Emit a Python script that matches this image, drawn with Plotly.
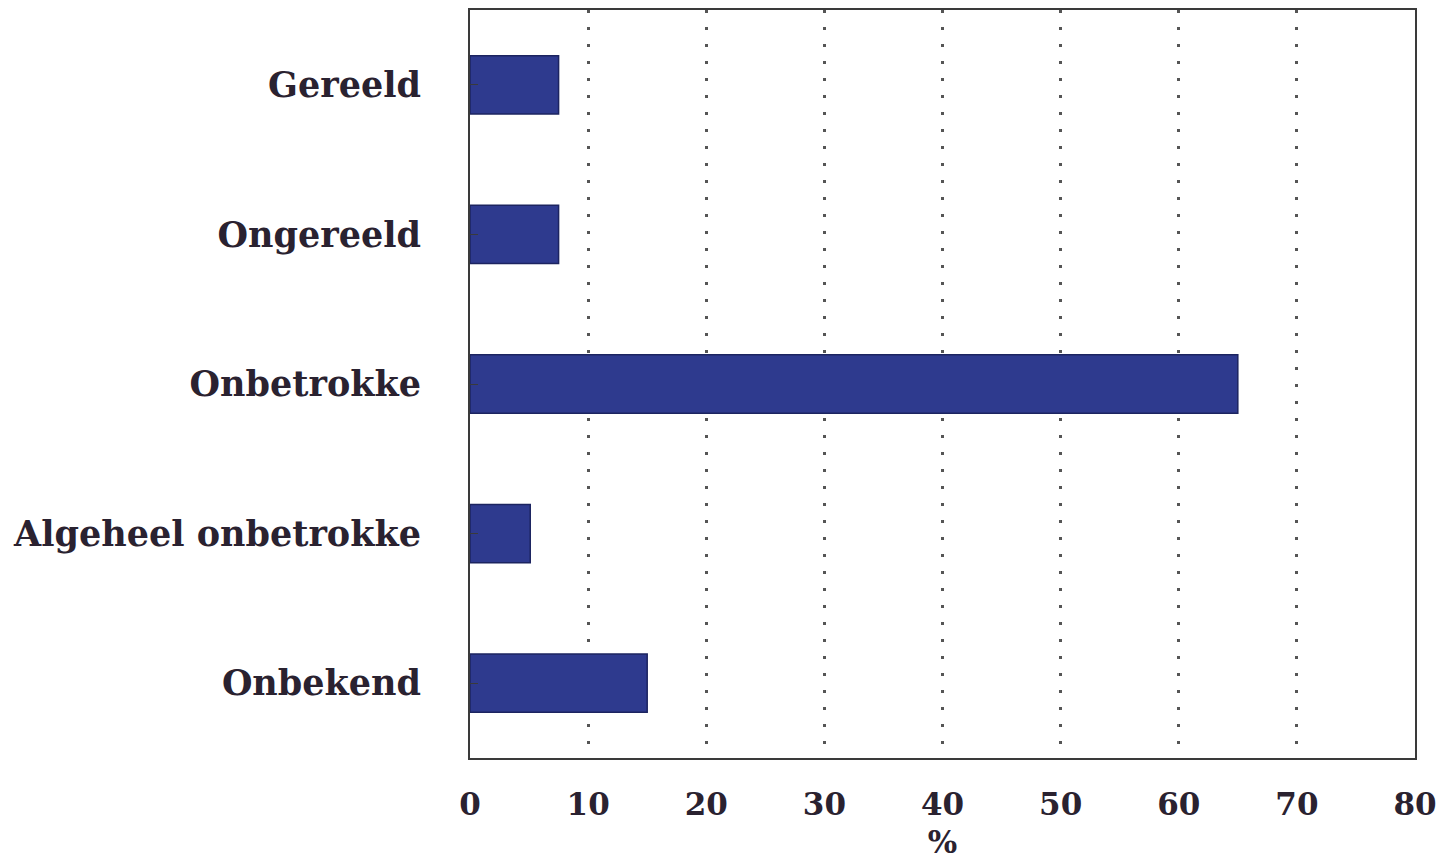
import plotly.graph_objects as go

categories = ["Gereeld", "Ongereeld", "Onbetrokke", "Algeheel onbetrokke", "Onbekend"]
values = [7.5, 7.5, 65, 5.1, 15]
x_ticks = [0, 10, 20, 30, 40, 50, 60, 70, 80]
x_title = "%"

font_family = "DejaVu Serif"
text_color = "#2a2230"

fig = go.Figure(go.Bar(
    x=values, y=categories, orientation="h",
    width=0.39,
    marker=dict(color="#2e3a8e", line=dict(color="#1c2460", width=1.5)),
))

fig.update_layout(
    width=1430, height=852,
    margin=dict(l=462, r=23, t=2, b=102),
    plot_bgcolor="white", paper_bgcolor="white",
    showlegend=False,
    font=dict(family=font_family, color=text_color, size=30),
)
fig.update_xaxes(
    range=[0, 80], tickvals=x_ticks, automargin=False,
    tickfont=dict(family=font_family, size=31, color=text_color, weight="bold"),
    showgrid=True, gridcolor="#555555", gridwidth=3, griddash="3px,14px",
    showline=True, linecolor="#3a3a3a", linewidth=2, mirror=True,
    ticks="", zeroline=False, ticklabelstandoff=18,
    title=dict(text="<b>" + x_title + "</b>", font=dict(family=font_family, size=31, color=text_color), standoff=29),
)
fig.update_yaxes(
    categoryorder="array", categoryarray=categories[::-1],
    range=[-0.5, 4.5], automargin=False,
    tickfont=dict(family=font_family, size=35, color=text_color, weight="bold"),
    showgrid=False,
    showline=True, linecolor="#3a3a3a", linewidth=2, mirror=True,
    ticks="inside", ticklen=8, tickcolor="#3a3a3a",
    ticklabelstandoff=40,
)

fig.write_html("out.html")
